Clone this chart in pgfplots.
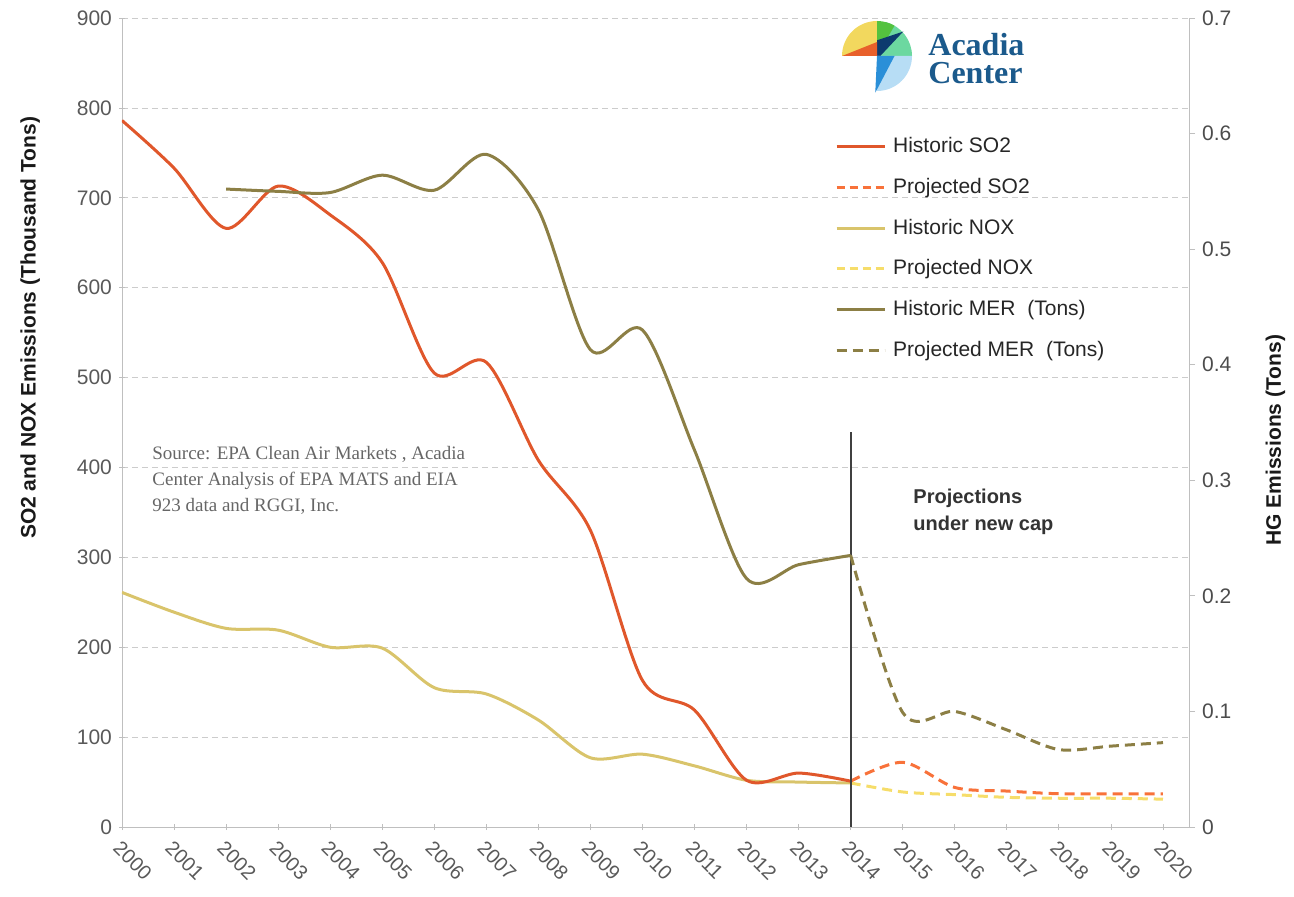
\documentclass[border=0pt]{standalone}
\usepackage{fontspec}
\setmainfont{Liberation Sans}
\newfontfamily\srcfont{Liberation Serif}
\usepackage{pgfplots}
\pgfplotsset{compat=1.18}
\definecolor{so2}{HTML}{E0572B}
\definecolor{so2p}{HTML}{F8723A}
\definecolor{nox}{HTML}{D9C46B}
\definecolor{noxp}{HTML}{F6DD6A}
\definecolor{mer}{HTML}{8C7F45}
\definecolor{tickgray}{HTML}{595959}
\definecolor{axgray}{HTML}{BFBFBF}
\definecolor{logoblue}{HTML}{1B5A8C}
\definecolor{lgyellow}{HTML}{F2D85E}
\definecolor{lgmint}{HTML}{6CD8A0}
\definecolor{lggreen}{HTML}{54C23F}
\definecolor{lgnavy}{HTML}{0D3B6E}
\definecolor{lgorange}{HTML}{E8602B}
\definecolor{lglblue}{HTML}{B7DDF5}
\definecolor{lgblue}{HTML}{2A8FD8}
\pgfplotsset{
  base/.style={scale only axis, width=533.5pt, height=404.5pt,
    xmin=2000, xmax=2020.5,
    /pgf/number format/assume math mode=true,
    ticklabel style={font=\fontsize{10.5}{12}\selectfont, text=tickgray},
    label style={font=\bfseries\fontsize{10.5}{12}\selectfont, text=black!90},
    tick style={axgray, thin},
    major tick length=3pt, tick align=outside,
  },
  hist/.style={line width=1.5pt, smooth, tension=0.5},
  proj/.style={line width=1.5pt, smooth, tension=0.5, dash pattern=on 5pt off 3pt},
}
\pgfplotstableread{
year so2 nox
2000 786 261
2001 733 239
2002 666 221
2003 713 219
2004 681 200
2005 628 199
2006 505 155
2007 517 148
2008 408 119
2009 330 77
2010 163 81
2011 130 68
2012 52 52
2013 60 50
2014 51 49
}\histtab
\pgfplotstableread{
year so2 nox
2014 51 49
2015 72 39
2016 44 36
2017 40 33
2018 37 32
2019 37 32
2020 37 31
}\projtab
\pgfplotstableread{
year mer
2002 0.552
2003 0.550
2004 0.549
2005 0.564
2006 0.551
2007 0.582
2008 0.534
2009 0.413
2010 0.430
2011 0.326
2012 0.215
2013 0.227
2014 0.235
}\merhist
\pgfplotstableread{
year mer
2014 0.235
2015 0.099
2016 0.100
2017 0.084
2018 0.067
2019 0.070
2020 0.073
}\merproj
\begin{document}
\begin{tikzpicture}
\useasboundingbox (-61pt,-34.5pt) rectangle (586pt,413.5pt);
\begin{axis}[base, ymin=0, ymax=900, ytick={0,100,...,900},
  axis x line=bottom, axis y line=left,
  axis line style={-, axgray},
  x axis line style={-}, y axis line style={-},
  xtick={2000,2001,...,2020},
  xticklabel style={rotate=-45, anchor=north west, font=\fontsize{10}{12}\selectfont, /pgf/number format/1000 sep={}},
  ymajorgrids, grid style={densely dashed, axgray!80},
  ylabel={SO2 and NOX Emissions (Thousand Tons)},
  ylabel style={at={(axis description cs:-0.086,0.617)}, anchor=center},
]
\addplot[hist, nox] table[x=year, y=nox] {\histtab};
\addplot[proj, noxp] table[x=year, y=nox] {\projtab};
\addplot[hist, so2] table[x=year, y=so2] {\histtab};
\addplot[proj, so2p] table[x=year, y=so2] {\projtab};
\draw[black!75, line width=1pt] (axis cs:2014,0) -- (axis cs:2014,440);
\end{axis}
\begin{axis}[base, ymin=0, ymax=0.7, ytick={0,0.1,0.2,0.3,0.4,0.5,0.6,0.7},
  axis y line*=right, axis x line=none,
  axis line style={-, axgray}, y axis line style={-},
  yticklabel style={/pgf/number format/fixed, /pgf/number format/precision=1, anchor=west, text=black!70},
  ylabel={HG Emissions (Tons)},
  ylabel style={at={(axis description cs:1.081,0.478)}, anchor=center},
  legend style={at={(rel axis cs:0.668,0.858)}, anchor=north west, draw=none, fill=none,
    font=\fontsize{10.5}{12}\selectfont, text=black!85, row sep=7.3pt, inner sep=0pt,
    nodes={inner xsep=3.5pt}},
  legend cell align=left,
  legend image code/.code={\draw[#1] (0pt,0pt) -- (24pt,0pt);},
]
\addlegendimage{line width=1.5pt, so2}
\addlegendentry{Historic SO2}
\addlegendimage{line width=1.5pt, so2p, dash pattern=on 4pt off 2.5pt}
\addlegendentry{Projected SO2}
\addlegendimage{line width=1.5pt, nox}
\addlegendentry{Historic NOX}
\addlegendimage{line width=1.5pt, noxp, dash pattern=on 4pt off 2.5pt}
\addlegendentry{Projected NOX}
\addplot[hist, mer] table[x=year, y=mer] {\merhist};
\addlegendentry{Historic MER\ \ (Tons)}
\addplot[proj, mer] table[x=year, y=mer] {\merproj};
\addlegendentry{Projected MER\ \ (Tons)}
\end{axis}
% annotations in pixel coordinates
\begin{scope}[shift={(-61pt,413.5pt)}, x=0.5pt, y=-0.5pt]
\node[anchor=north west, align=left, font=\srcfont\fontsize{9.5}{13}\selectfont, text=black!60, inner sep=0pt]
  at (152,446) {Source: EPA Clean Air Markets , Acadia\\Center Analysis of EPA MATS and EIA\\923 data and RGGI, Inc.};
\node[anchor=north west, align=left, font=\bfseries\fontsize{10}{13.5}\selectfont, text=black!80, inner sep=0pt]
  at (913,489) {Projections\\under new cap};
\node[anchor=west, font=\srcfont\bfseries\fontsize{16}{18}\selectfont, text=logoblue, inner sep=0pt] at (928,45) {Acadia};
\node[anchor=west, font=\srcfont\bfseries\fontsize{16}{18}\selectfont, text=logoblue, inner sep=0pt] at (928,73) {Center};
\end{scope}
% logo icon
\begin{scope}[shift={(377.5pt,385.5pt)}, x=17.5pt, y=17.5pt]
\fill[lgyellow] (0,0) -- (90:1) arc (90:180:1) -- cycle;
\fill[lgmint] (0,0) -- (0:1) arc (0:75:1) -- cycle;
\fill[lggreen] (0,0) -- (60:1) arc (60:90:1) -- cycle;
\fill[lgnavy] (0,-0.1) -- (0.75,0.7) -- (0,0.45) -- cycle;
\fill[lgorange] (-1,0) -- (0,0) -- (0,0.4) -- cycle;
\fill[lglblue] (0,0) -- (270:1) arc (270:360:1) -- cycle;
\fill[lgblue] (0,0) -- (0.5,0) -- (-0.05,-1.05) -- cycle;
\end{scope}
\end{tikzpicture}
\end{document}
